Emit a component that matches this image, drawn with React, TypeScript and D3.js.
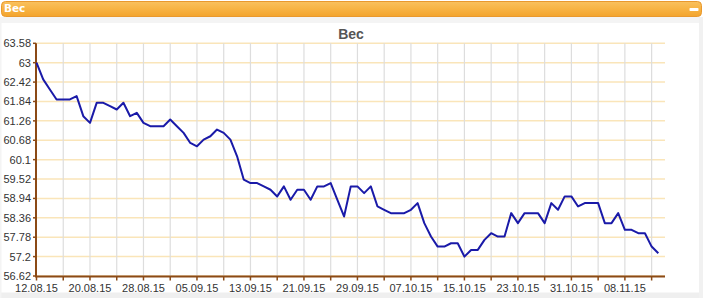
import React from "react";
import * as d3 from "d3";

const startDate = "2015-08-12";
const endDate = "2015-11-14";
const weights: number[] = [
  63.0, 62.5, 62.2, 61.9, 61.9, 61.9, 62.0, 61.4, 61.2, 61.8,
  61.8, 61.7, 61.6, 61.8, 61.4, 61.5, 61.2, 61.1, 61.1, 61.1,
  61.3, 61.1, 60.9, 60.6, 60.5, 60.7, 60.8, 61.0, 60.9, 60.7,
  60.2, 59.5, 59.4, 59.4, 59.3, 59.2, 59.0, 59.3, 58.9, 59.2,
  59.2, 58.9, 59.3, 59.3, 59.4, 58.9, 58.4, 59.3, 59.3, 59.1,
  59.3, 58.7, 58.6, 58.5, 58.5, 58.5, 58.6, 58.8, 58.2, 57.8,
  57.5, 57.5, 57.6, 57.6, 57.2, 57.4, 57.4, 57.7, 57.9, 57.8,
  57.8, 58.5, 58.2, 58.5, 58.5, 58.5, 58.2, 58.8, 58.6, 59.0,
  59.0, 58.7, 58.8, 58.8, 58.8, 58.2, 58.2, 58.5, 58.0, 58.0,
  57.9, 57.9, 57.5, 57.3,
];
const yTicks: number[] = [63.58, 63, 62.42, 61.84, 61.26, 60.68, 60.1, 59.52, 58.94, 58.36, 57.78, 57.2, 56.62];
const title = "Вес";

const W = 703;
const H = 298;

export default function App() {
  const parse = d3.utcParse("%Y-%m-%d");
  const t0 = parse(startDate) as Date;
  const t1 = parse(endDate) as Date;
  const dates = weights.map((_, i) => d3.utcDay.offset(t0, i));
  const data = weights.map((v, i) => ({ date: dates[i], v }));

  const x = d3.scaleUtc().domain([t0, t1]).range([36.5, 665]);
  const y = d3.scaleLinear().domain([56.62, 63.58]).range([276, 43.3]);

  const xTicks = d3.utcDay.range(t0, t1, 4);
  const fmt = d3.utcFormat("%d.%m.%y");

  const line = d3
    .line<{ date: Date; v: number }>()
    .x((d) => x(d.date))
    .y((d) => y(d.v));

  const left = 36;
  const right = 665;
  const top = 43.3;
  const bottom = 276;

  return (
    <svg
      width={W}
      height={H}
      style={{ position: "absolute", left: 0, top: 0, display: "block" }}
      fontFamily="'Liberation Sans', Arial, sans-serif"
    >
      <defs>
        <linearGradient id="hdr" x1="0" y1="0" x2="0" y2="1">
          <stop offset="0" stopColor="#F9C15E" />
          <stop offset="0.5" stopColor="#F7B343" />
          <stop offset="1" stopColor="#F3A42D" />
        </linearGradient>
      </defs>
      <rect x={0} y={0} width={W} height={H} fill="#ffffff" />
      <rect x={0} y={17} width={W} height={6} fill="#f4f4f4" />
      <rect x={0} y={292.5} width={W} height={6} fill="#efefef" />
      <rect x={699} y={17} width={4} height={H - 17} fill="#f1f1f1" />
      <rect x={0} y={17} width={1.5} height={H - 17} fill="#f4f4f4" />
      <rect x={1.5} y={1.5} width={700} height={15} rx={4} fill="url(#hdr)" stroke="#E9992E" strokeWidth={1} />
      <text x={4} y={11.5} fill="#ffffff" fontWeight="bold" fontSize={10.5} fontFamily="Verdana, 'DejaVu Sans', sans-serif">
        {title}
      </text>
      <rect x={689.5} y={8} width={9} height={3} rx={0.8} fill="#ffffff" />

      <text x={351} y={39} textAnchor="middle" fontWeight="bold" fontSize={14} fill="#555555">
        {title}
      </text>

      {yTicks.map((t) => (
        <line key={"hg" + t} x1={left} x2={right} y1={y(t)} y2={y(t)} stroke="#FAE5B9" strokeWidth={1.5} />
      ))}
      {xTicks.map((d, i) =>
        i === 0 ? null : (
          <line key={"vg" + i} x1={x(d)} x2={x(d)} y1={top} y2={bottom} stroke="#DDDDDD" strokeWidth={1.2} />
        )
      )}

      <line x1={left} x2={left} y1={top} y2={bottom + 1} stroke="#8B4A16" strokeWidth={2} />
      {yTicks.map((t) => (
        <g key={"yt" + t}>
          <line x1={left - 3} x2={left} y1={y(t)} y2={y(t)} stroke="#8B4A16" strokeWidth={1.5} />
          <text x={31} y={y(t) + 4} textAnchor="end" fontSize={11} fill="#333333">
            {String(t)}
          </text>
        </g>
      ))}

      <line x1={left - 1} x2={right} y1={bottom + 0.5} y2={bottom + 0.5} stroke="#8B4A16" strokeWidth={2} />
      {xTicks.map((d, i) => (
        <g key={"xt" + i}>
          <line x1={x(d)} x2={x(d)} y1={bottom + 1} y2={bottom + 4.5} stroke="#8B4A16" strokeWidth={1.5} />
          {i % 2 === 0 ? (
            <text x={x(d)} y={291.5} textAnchor="middle" fontSize={11} fill="#333333">
              {fmt(d)}
            </text>
          ) : null}
        </g>
      ))}

      <path d={line(data) || ""} fill="none" stroke="#1A1AA8" strokeWidth={2} strokeLinejoin="round" />
    </svg>
  );
}
